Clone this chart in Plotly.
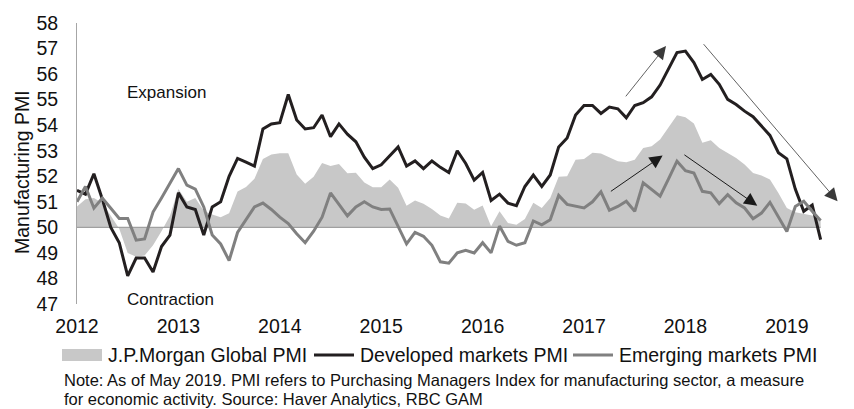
import plotly.graph_objects as go

# ---------------- data (monthly, Jan 2012 .. May 2019) ----------------
months = list(range(89))  # 0 = Jan 2012
year_ticks = [0, 12, 24, 36, 48, 60, 72, 84]
year_labels = ["2012", "2013", "2014", "2015", "2016", "2017", "2018", "2019"]

global_pmi = [50.82, 51.1, 51.15, 50.95, 50.45, 49.95, 49.0, 48.85, 48.9, 49.3, 49.85, 50.45,
              51.5, 51.0, 51.15, 50.65, 50.5, 50.4, 50.55, 51.4, 51.58, 51.9, 52.68, 52.85,
              52.9, 52.9, 52.07, 51.71, 51.98, 52.52, 52.4, 52.48, 52.12, 52.14, 51.76, 51.57,
              51.57, 51.87, 51.55, 50.85, 51.05, 50.92, 50.72, 50.46, 50.35, 50.96, 50.93, 50.69,
              50.86, 50.04, 50.63, 50.17, 50.1, 50.33, 50.96, 50.76, 51.15, 51.98, 52.0, 52.65,
              52.68, 52.92, 52.89, 52.75, 52.59, 52.55, 52.65, 53.11, 53.18, 53.44, 53.9, 54.39,
              54.31, 54.07, 53.31, 53.41, 53.11, 52.92, 52.72, 52.46, 52.13, 52.03, 51.87, 51.35,
              50.76, 50.59, 50.53, 50.46, 50.3]

developed_pmi = [51.45, 51.3, 52.1, 51.1, 50.0, 49.4, 48.1, 48.8, 48.8, 48.25, 49.25, 49.7,
                 51.35, 50.8, 50.7, 49.7, 50.8, 51.0, 52.0, 52.7, 52.55, 52.4, 53.85, 54.05,
                 54.1, 55.2, 54.2, 53.85, 53.9, 54.4, 53.55, 54.05, 53.65, 53.35, 52.75, 52.3,
                 52.45, 52.8, 53.15, 52.4, 52.6, 52.3, 52.6, 52.35, 52.15, 53.0, 52.5, 51.85,
                 52.15, 51.05, 51.3, 50.95, 50.85, 51.6, 52.05, 51.6, 52.05, 53.15, 53.5, 54.4,
                 54.77, 54.77, 54.46, 54.71, 54.64, 54.29, 54.77, 54.88, 55.11, 55.57, 56.18, 56.84,
                 56.9, 56.45, 55.79, 55.99, 55.6, 55.01, 54.81, 54.55, 54.33, 53.96, 53.6, 52.92,
                 52.68, 51.5, 50.63, 50.87, 49.52]

emerging_pmi = [51.0, 51.6, 50.75, 51.15, 50.75, 50.35, 50.35, 49.5, 49.55, 50.6, 51.15, 51.7,
                52.3, 51.65, 51.5, 50.8, 49.7, 49.35, 48.7, 49.8, 50.3, 50.8, 50.95, 50.7,
                50.4, 50.15, 49.75, 49.4, 49.85, 50.4, 51.35, 50.9, 50.45, 50.8, 51.0, 50.8,
                50.7, 50.72, 50.0, 49.35, 49.8, 49.65, 49.3, 48.65, 48.6, 49.0, 49.1, 49.0,
                49.4, 49.0, 50.05, 49.45, 49.3, 49.4, 50.25, 50.1, 50.3, 51.25, 50.9, 50.82,
                50.76, 51.0, 51.39, 50.67, 50.82, 51.02, 50.63, 51.74, 51.48, 51.22, 51.9, 52.59,
                52.22, 52.13, 51.41, 51.35, 50.93, 51.28, 50.96, 50.76, 50.34, 50.56, 50.98, 50.43,
                49.84, 50.82, 51.02, 50.63, 50.27]

threshold = 50
series_names = ["J.P.Morgan Global PMI", "Developed markets PMI", "Emerging markets PMI"]
y_title = "Manufacturing PMI"
note_lines = ["Note: As of May 2019. PMI refers to Purchasing Managers Index for manufacturing sector, a measure",
              "for economic activity. Source: Haver Analytics, RBC GAM"]

# ---------------- styling ----------------
W, H = 854, 409
ML, MR, MT, MB = 77, 8, 23, 105
PW, PH = W - ML - MR, H - MT - MB
FONT = "Liberation Sans, Arial, sans-serif"
C_FILL = "#c8c8c8"
C_DM = "#231f20"
C_EM = "#808080"
C_BASE = "#a0a0a0"
TXT = "#111111"


def px(xp):
    return (xp - ML) / PW


def py(yp):
    return (H - MB - yp) / PH


fig = go.Figure()
# invisible base at threshold, then area filled to it
fig.add_trace(go.Scatter(x=months, y=[threshold] * len(months), mode="lines",
                         line=dict(width=0, color=C_FILL), hoverinfo="skip", showlegend=False))
fig.add_trace(go.Scatter(x=months, y=global_pmi, mode="lines", fill="tonexty",
                         fillcolor=C_FILL, line=dict(width=0, color=C_FILL),
                         name=series_names[0], showlegend=False))
# threshold line
fig.add_trace(go.Scatter(x=[months[0], months[-1]], y=[threshold, threshold], mode="lines",
                         line=dict(width=1.2, color=C_BASE), hoverinfo="skip", showlegend=False))
fig.add_trace(go.Scatter(x=months, y=developed_pmi, mode="lines",
                         line=dict(width=3, color=C_DM), name=series_names[1], showlegend=False))
fig.add_trace(go.Scatter(x=months, y=emerging_pmi, mode="lines",
                         line=dict(width=3, color=C_EM), name=series_names[2], showlegend=False))

annotations = []
# region labels
annotations.append(dict(x=5.7, y=55.28, xref="x", yref="y", text="Expansion", showarrow=False,
                        xanchor="left", yanchor="middle", font=dict(size=17, color=TXT)))
annotations.append(dict(x=5.7, y=47.16, xref="x", yref="y", text="Contraction", showarrow=False,
                        xanchor="left", yanchor="middle", font=dict(size=17, color=TXT)))

# trend arrows (tail -> head) in data units
arrows = [
    ((64.8, 55.07), (69.7, 57.1), "#3a3a3a", 0.8),
    ((74.0, 57.23), (90.0, 51.02), "#3a3a3a", 0.8),
    ((63.0, 51.37), (69.3, 52.81), "#1a1a1a", 1),
    ((71.7, 52.88), (80.5, 50.85), "#1a1a1a", 1),
]
for (tx, ty), (hx, hy), col, w in arrows:
    annotations.append(dict(x=hx, y=hy, ax=tx, ay=ty, xref="x", yref="y", axref="x", ayref="y",
                            text="", showarrow=True, arrowhead=2, arrowsize=2.6 / w, arrowwidth=w,
                            arrowcolor=col, standoff=0))

# y axis title
annotations.append(dict(x=px(22), y=py(172), xref="paper", yref="paper", text=y_title,
                        textangle=-90, showarrow=False, xanchor="center", yanchor="middle",
                        font=dict(size=19.5, color=TXT)))

# custom legend
LEG_Y = 355
LEG_FONT = 19.5
shapes = [
    dict(type="rect", xref="paper", yref="paper", x0=px(62), x1=px(102), y0=py(349), y1=py(361),
         fillcolor=C_FILL, line=dict(width=0)),
    dict(type="line", xref="paper", yref="paper", x0=px(314), x1=px(354), y0=py(LEG_Y), y1=py(LEG_Y),
         line=dict(color=C_DM, width=3)),
    dict(type="line", xref="paper", yref="paper", x0=px(573), x1=px(613), y0=py(LEG_Y), y1=py(LEG_Y),
         line=dict(color=C_EM, width=3)),
]
for name, xl in zip(series_names, [106, 358, 617]):
    annotations.append(dict(x=px(xl), y=py(LEG_Y), xref="paper", yref="paper", text=name,
                            showarrow=False, xanchor="left", yanchor="middle",
                            font=dict(size=LEG_FONT, color=TXT)))

# note
for line, yl in zip(note_lines, [380, 399]):
    annotations.append(dict(x=px(62), y=py(yl), xref="paper", yref="paper", text=line,
                            showarrow=False, xanchor="left", yanchor="middle",
                            font=dict(size=16.5, color=TXT)))

fig.update_layout(
    width=W, height=H,
    margin=dict(l=ML, r=MR, t=MT, b=MB, pad=0),
    paper_bgcolor="white", plot_bgcolor="white",
    font=dict(family=FONT, color=TXT),
    showlegend=False,
    annotations=annotations,
    shapes=shapes,
    xaxis=dict(range=[0, 91], tickmode="array", tickvals=year_ticks, ticktext=year_labels,
               showgrid=False, zeroline=False, showline=False, ticks="",
               ticklabelstandoff=8, tickfont=dict(size=19.5, color=TXT)),
    yaxis=dict(range=[47, 58], tickmode="array", tickvals=list(range(47, 59)),
               showgrid=False, zeroline=False, showline=True, linecolor="#a6a6a6", linewidth=1,
               ticks="", ticklabelstandoff=14, tickfont=dict(size=19.5, color=TXT)),
)

fig.write_html("out.html", config={"displayModeBar": False},
               post_script="document.body.style.margin='0';")
